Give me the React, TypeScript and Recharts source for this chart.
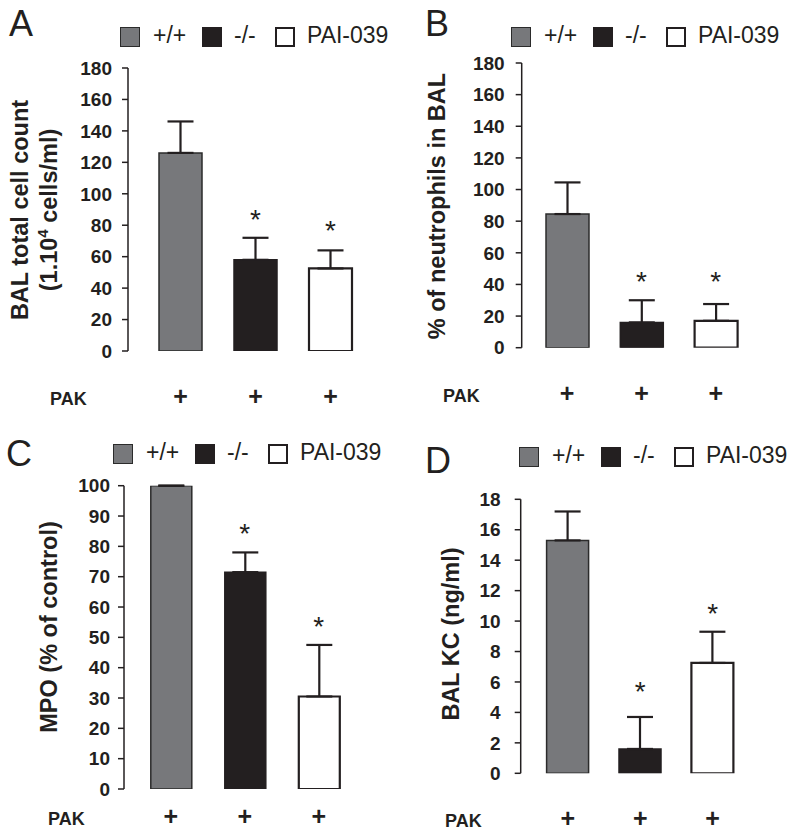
import React from 'react';
import { ComposedChart, Bar, ErrorBar, Scatter, XAxis, YAxis, Cell } from 'recharts';

// ---------- data ----------
const groups = ['+/+', '-/-', 'PAI-039'];
const pakLabels = ['+', '+', '+'];

const aMeans = [126, 58, 52.5];
const aErrors = [20, 14, 11.5];
const aStars = [null, 88, 81];
const aTicks = [0, 20, 40, 60, 80, 100, 120, 140, 160, 180];

const bMeans = [84.5, 16, 17];
const bErrors = [20, 14, 10.6];
const bStars = [null, 46, 46];
const bTicks = [0, 20, 40, 60, 80, 100, 120, 140, 160, 180];

const cMeans = [100, 71.5, 30.5];
const cErrors = [0, 6.5, 17];
const cStars = [null, 86.5, 55.7];
const cTicks = [0, 10, 20, 30, 40, 50, 60, 70, 80, 90, 100];

const dMeans = [15.3, 1.6, 7.25];
const dErrors = [1.9, 2.1, 2.05];
const dStars = [null, 5.8, 10.9];
const dTicks = [0, 2, 4, 6, 8, 10, 12, 14, 16, 18];

// ---------- styles ----------
const FONT = '"Liberation Sans", Arial, Helvetica, sans-serif';
const INK = '#231f20';
const fills = ['#77787b', '#231f20', '#ffffff'];
const strokes = ['#2b2b2b', '#231f20', '#231f20'];
const strokeWidths = [1.5, 1.5, 2.2];
const H = 417;
const XH = 30;

const panels = [
  {
    letter: 'A', left: 0, top: 0, means: aMeans, errors: aErrors, stars: aStars, ticks: aTicks, max: 180,
    axisX: 128, plotTop: 68, plotBottom: 351, padLeft: 15, band: 75, barSize: 43, tickMargin: 10,
    letterX: 9, letterY: 37, legendX: 120, legendY: 27,
    pakX: 50, pakY: 405,
    yLabel: ['BAL total cell count', '(1.10', '4', ' cells/ml)'], yLabelX: [28, 57], yLabelY: 210,
  },
  {
    letter: 'B', left: 400, top: 0, means: bMeans, errors: bErrors, stars: bStars, ticks: bTicks, max: 180,
    axisX: 121.7, plotTop: 63, plotBottom: 347.7, padLeft: 8.3, band: 74.3, barSize: 43, tickMargin: 11,
    letterX: 25, letterY: 37, legendX: 111, legendY: 27,
    pakX: 43, pakY: 402,
    yLabel: ['% of neutrophils in BAL'], yLabelX: [45], yLabelY: 206,
  },
  {
    letter: 'C', left: 0, top: 420, means: cMeans, errors: cErrors, stars: cStars, ticks: cTicks, max: 100,
    axisX: 124, plotTop: 65.7, plotBottom: 369, padLeft: 9.8, band: 74, barSize: 41, tickMargin: 8,
    letterX: 6, letterY: 47, legendX: 113, legendY: 24,
    pakX: 48, pakY: 405,
    yLabel: ['MPO (% of control)'], yLabelX: [57], yLabelY: 207,
  },
  {
    letter: 'D', left: 400, top: 420, means: dMeans, errors: dErrors, stars: dStars, ticks: dTicks, max: 18,
    axisX: 120.7, plotTop: 79.3, plotBottom: 353.3, padLeft: 10.9, band: 72.4, barSize: 42, tickMargin: 14,
    letterX: 25, letterY: 54, legendX: 119, legendY: 27,
    pakX: 45, pakY: 407,
    yLabel: ['BAL KC (ng/ml)'], yLabelX: [59], yLabelY: 214,
  },
];

const legendOffsets = [0, 33, 82, 114, 155, 187];

function Legend({ x, y }: { x: number; y: number }) {
  const items: React.ReactNode[] = [];
  groups.forEach((g, i) => {
    items.push(
      <div
        key={'s' + i}
        style={{
          position: 'absolute', left: x + legendOffsets[i * 2], top: y, width: 20, height: 20,
          boxSizing: 'border-box', background: fills[i], border: `${i === 2 ? 2 : 1.5}px solid ${strokes[i]}`,
        }}
      />
    );
    items.push(
      <div
        key={'t' + i}
        style={{
          position: 'absolute', left: x + legendOffsets[i * 2 + 1], top: y - 7, fontFamily: FONT,
          fontSize: 23, lineHeight: '30px', color: INK, whiteSpace: 'nowrap',
        }}
      >
        {g}
      </div>
    );
  });
  return <>{items}</>;
}

function StarShape(props: any) {
  const { cx, cy, payload } = props;
  if (payload == null || payload.star == null || cx == null || cy == null) return <g />;
  return (
    <text x={cx} y={cy + 16} textAnchor="middle" fontFamily={FONT} fontSize={28} fill={INK}>
      *
    </text>
  );
}

function Panel({ cfg }: { cfg: any }) {
  const data = cfg.means.map((m: number, i: number) => ({
    group: groups[i],
    mean: m,
    err: [0, cfg.errors[i]],
    star: cfg.stars[i],
  }));
  const right = 400 - (cfg.axisX + cfg.padLeft + 3 * cfg.band);
  const bottomMargin = H - cfg.plotBottom - XH;

  const yLabel = () => {
    const [l0, l1] = cfg.yLabelX;
    const cy = cfg.yLabelY;
    if (cfg.yLabel.length > 1) {
      return (
        <g>
          <text x={l0} y={cy} transform={`rotate(-90, ${l0}, ${cy})`} textAnchor="middle"
            fontFamily={FONT} fontWeight="bold" fontSize={23.5} fill={INK}>
            {cfg.yLabel[0]}
          </text>
          <text x={l1} y={cy} transform={`rotate(-90, ${l1}, ${cy})`} textAnchor="middle"
            fontFamily={FONT} fontWeight="bold" fontSize={23.5} fill={INK}>
            <tspan>{cfg.yLabel[1]}</tspan>
            <tspan dy={-9} fontSize={15}>{cfg.yLabel[2]}</tspan>
            <tspan dy={9}>{cfg.yLabel[3]}</tspan>
          </text>
        </g>
      );
    }
    return (
      <text x={l0} y={cy} transform={`rotate(-90, ${l0}, ${cy})`} textAnchor="middle"
        fontFamily={FONT} fontWeight="bold" fontSize={23.5} fill={INK}>
        {cfg.yLabel[0]}
      </text>
    );
  };

  return (
    <div style={{ position: 'absolute', left: cfg.left, top: cfg.top, width: 400, height: H }}>
      <ComposedChart
        width={400}
        height={H}
        data={data}
        margin={{ top: cfg.plotTop, right, bottom: bottomMargin, left: 0 }}
      >
        <XAxis
          dataKey="group"
          type="category"
          axisLine={false}
          tickLine={false}
          tickSize={0}
          tickMargin={0}
          height={XH}
          interval={0}
          padding={{ left: cfg.padLeft, right: 0 }}
          tick={(p: any) => (
            <text x={p.x} y={cfg.pakY} textAnchor="middle" fontFamily={FONT} fontWeight="bold"
              fontSize={25} fill={INK}>
              {pakLabels[p.index] ?? '+'}
            </text>
          )}
          label={() => (
            <text x={cfg.pakX} y={cfg.pakY} fontFamily={FONT} fontWeight="bold" fontSize={18} fill={INK}>
              PAK
            </text>
          )}
        />
        <YAxis
          type="number"
          domain={[0, cfg.max]}
          ticks={cfg.ticks}
          interval={0}
          width={cfg.axisX}
          axisLine={{ stroke: INK, strokeWidth: 1.5 }}
          tickLine={{ stroke: INK, strokeWidth: 1.5 }}
          tickSize={6}
          tickMargin={cfg.tickMargin}
          tick={{ fontFamily: FONT, fontWeight: 'bold', fontSize: 19, fill: INK }}
          allowDataOverflow
          label={yLabel}
        />
        <Bar dataKey="mean" barSize={cfg.barSize} isAnimationActive={false}>
          {data.map((_: any, i: number) => (
            <Cell key={i} fill={fills[i]} stroke={strokes[i]} strokeWidth={strokeWidths[i]} />
          ))}
          <ErrorBar dataKey="err" direction="y" width={13} stroke={INK} strokeWidth={2.2} />
        </Bar>
        <Scatter dataKey="star" isAnimationActive={false} shape={StarShape} />
      </ComposedChart>
      <div
        style={{
          position: 'absolute', left: cfg.letterX, top: cfg.letterY - 33, fontFamily: FONT,
          fontSize: 36, lineHeight: '40px', color: INK,
        }}
      >
        {cfg.letter}
      </div>
      <Legend x={cfg.legendX} y={cfg.legendY} />
    </div>
  );
}

export default function App() {
  return (
    <div style={{ position: 'absolute', left: 0, top: 0, width: 800, height: 837, background: '#fff' }}>
      {panels.map((p) => (
        <Panel key={p.letter} cfg={p} />
      ))}
    </div>
  );
}
